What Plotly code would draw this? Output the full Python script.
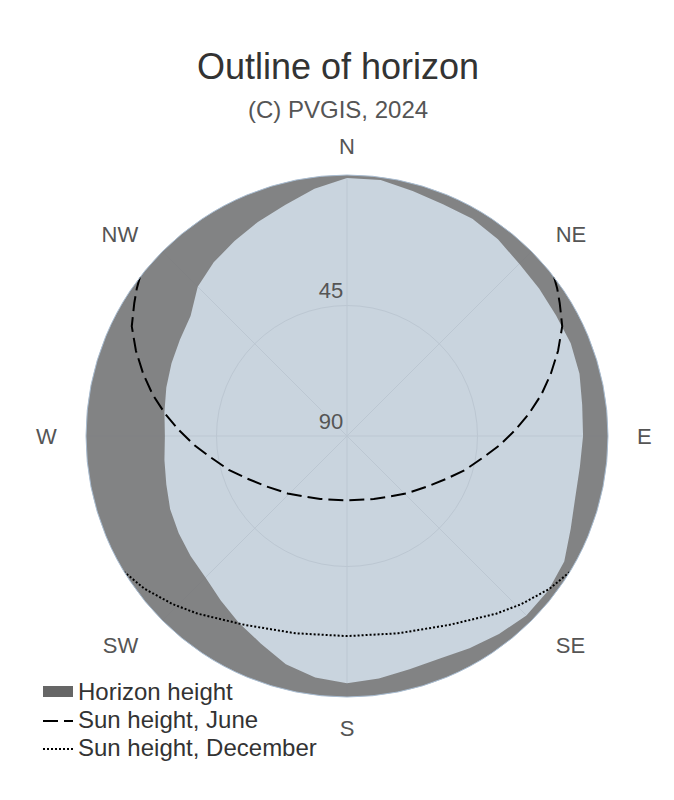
import plotly.graph_objects as go

# ---------------- data ----------------
horizon_azimuth = [0, 7.5, 15, 22.5, 30, 37.5, 45, 52.5, 60, 67.5, 75, 82.5,
                   90, 97.5, 105, 112.5, 120, 127.5, 135, 142.5, 150, 157.5, 165, 172.5,
                   180, 187.5, 195, 202.5, 210, 217.5, 225, 232.5, 240, 247.5, 255, 262.5,
                   270, 277.5, 285, 292.5, 300, 307.5, 315, 322.5, 330, 337.5, 345, 352.5]
horizon_height = [1, 1, 2.5, 3.5, 3.5, 4.5, 6, 6.5, 6.8, 6.5, 7, 8.2,
                  8.6, 9, 8.5, 6.5, 3.5, 2.5, 2.5, 3.9, 5.5, 6.9, 6.7, 5.7,
                  4.7, 6, 8.5, 12.5, 15.5, 18.5, 21, 22, 23, 24, 25.5, 26.5,
                  27.2, 26.5, 25.5, 24.5, 23.5, 22, 17.2, 14.5, 12.4, 10, 7.5, 4]

june_azimuth = [52.5, 55, 58, 63, 68, 73, 78, 83, 88, 93.5, 99, 106, 113, 122, 134, 146, 157,
                180, 203, 214, 226, 238, 247, 254, 261, 266.5, 272, 277, 282, 287, 292, 297,
                302, 305, 307.5]
june_height = [0, 1.5, 3.5, 6.7, 11.5, 16.5, 21.5, 26.8, 32, 37.3, 42.5, 47.6, 52.5, 57.2, 61.5,
               64.7, 66.4, 67.8, 66.4, 64.7, 61.5, 57.2, 52.5, 47.6, 42.5, 37.3, 32, 26.8, 21.5,
               16.5, 11.5, 6.7, 3.5, 1.5, 0]

december_azimuth = [121.4, 127, 134, 140, 151.5, 165.4, 180, 194.6, 208.5, 220, 226, 233, 238.6]
december_height = [0, 2.5, 6.5, 10, 15.9, 19.7, 21, 19.7, 15.9, 10, 6.5, 2.5, 0]

direction_ticks = [0, 45, 90, 135, 180, 225, 270, 315]
direction_labels = ["N", "NE", "E", "SE", "S", "SW", "W", "NW"]
radial_ticks = [45, 90]
radial_labels = ["45", "90"]

# ---------------- figure ----------------
FONT = "Arial, Liberation Sans, sans-serif"

# horizon band: outline of horizon, then back around the outer edge (height 0)
edge_theta = [360 - k * 2 for k in range(181)]
band_theta = horizon_azimuth + [360] + edge_theta
band_r = horizon_height + [horizon_height[0]] + [0] * len(edge_theta)

fig = go.Figure()
# legend entry for the horizon band (box swatch)
fig.add_trace(go.Scatterpolar(
    r=[None], theta=[None], mode="lines", fill="toself",
    fillcolor="#666666", line=dict(width=10, color="#666666"),
    name="Horizon height", legendgroup="horizon", hoverinfo="skip"))
fig.add_trace(go.Scatterpolar(
    r=band_r, theta=band_theta, mode="lines", fill="toself",
    fillcolor="rgba(120,120,120,0.88)", line=dict(width=0, color="rgba(0,0,0,0)"),
    name="Horizon height", legendgroup="horizon", showlegend=False, hoverinfo="skip"))
fig.add_trace(go.Scatterpolar(
    r=june_height, theta=june_azimuth, mode="lines",
    line=dict(color="black", width=2, dash="15px,6px"),
    name="Sun height, June"))
fig.add_trace(go.Scatterpolar(
    r=december_height, theta=december_azimuth, mode="lines",
    line=dict(color="black", width=2, dash="2px,2px"),
    name="Sun height, December"))

SPAN = '<span style="font-size:24px">{}</span>'
for tr in fig.data:
    tr.name = SPAN.format(tr.name)

fig.update_layout(
    width=674, height=800,
    paper_bgcolor="white",
    font=dict(family=FONT, color="#444"),
    margin=dict(l=78, r=74, t=167, b=111, autoexpand=False),
    title=dict(text="Outline of horizon", x=330 / 674, xanchor="center", xref="container",
               y=1 - 58 / 800, yanchor="middle", yref="container",
               font=dict(size=36, color="#333", family=FONT)),
    annotations=[dict(text="(C) PVGIS, 2024", xref="paper", yref="paper",
                      x=(338 - 86) / 522, y=(697 - 109) / 522,
                      xanchor="center", yanchor="middle", showarrow=False,
                      font=dict(size=24, color="#555", family=FONT))],
    showlegend=True,
    legend=dict(x=30 / 674, xanchor="left", xref="container",
                y=1 - 760 / 800, yanchor="bottom", yref="container",
                font=dict(size=19.2, color="#333", family=FONT),
                bgcolor="rgba(0,0,0,0)", tracegroupgap=0),
    polar=dict(
        bgcolor="#c9d4de",
        angularaxis=dict(rotation=90, direction="clockwise",
                         tickmode="array", tickvals=direction_ticks,
                         ticktext=["  " + t + "  " for t in direction_labels],
                         tickfont=dict(size=22, color="#555"),
                         showline=True, linecolor="#a9bcd0", linewidth=1,
                         showgrid=True, gridcolor="#bcc7d2",
                         ticks="outside", ticklen=12, tickcolor="rgba(0,0,0,0)"),
        radialaxis=dict(range=[90, 0], angle=90, side="counterclockwise",
                        tickmode="array", tickvals=radial_ticks,
                        ticktext=[t + "<br> " for t in radial_labels],
                        tickfont=dict(size=22, color="#555"), showline=False,
                        showgrid=True, gridcolor="#bcc7d2", ticks="", tickangle=90),
    ),
)

fig.write_html("out.html")
